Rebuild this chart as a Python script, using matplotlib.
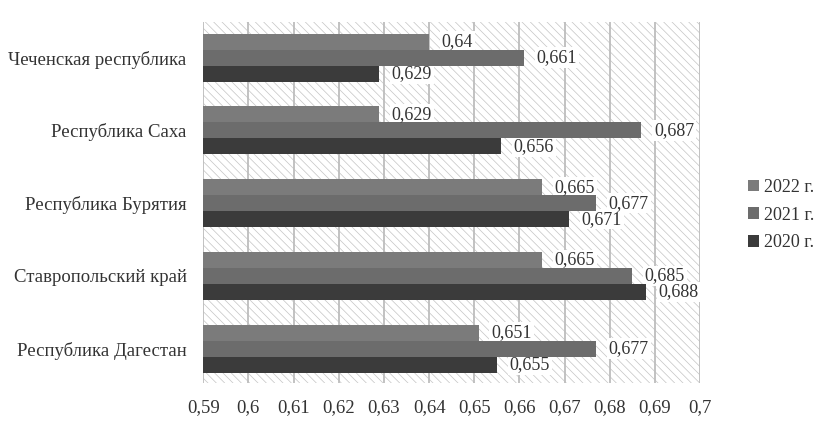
import matplotlib
matplotlib.use('Agg')
import matplotlib.pyplot as plt
from matplotlib.patches import Rectangle
import numpy as np

regions = ['Республика Дагестан', 'Ставропольский край', 'Республика Бурятия',
           'Республика Саха', 'Чеченская республика']
v2022 = [0.651, 0.665, 0.665, 0.629, 0.64]
v2021 = [0.677, 0.685, 0.677, 0.687, 0.661]
v2020 = [0.655, 0.688, 0.671, 0.656, 0.629]
x_ticks = [0.59, 0.6, 0.61, 0.62, 0.63, 0.64, 0.65, 0.66, 0.67, 0.68, 0.69, 0.7]

plt.rcParams['font.family'] = ['Liberation Serif', 'DejaVu Serif']
plt.rcParams['hatch.linewidth'] = 0.5
plt.rcParams['hatch.color'] = '#c4c4c4'

fig = plt.figure(figsize=(8.16, 4.24), dpi=100)
ax = fig.add_axes([0.249, 0.097, 0.609, 0.851])

# hatched background
bg = Rectangle((0, 0), 1, 1, transform=ax.transAxes, facecolor='white',
               edgecolor='#c4c4c4', hatch='\\\\\\\\', linewidth=0, zorder=0)
ax.add_patch(bg)

y = np.arange(len(regions))
h = 0.22
series = [(v2022, '#7b7b7b', '2022 г.', h), (v2021, '#6c6c6c', '2021 г.', 0),
          (v2020, '#3b3b3b', '2020 г.', -h)]
for vals, col, lab, off in series:
    bars = ax.barh(y + off, np.array(vals) - 0.59, left=0.59, height=h,
                   color=col, label=lab, zorder=3)
    for b, v in zip(bars, vals):
        txt = ('%g' % v).replace('.', ',')
        pos = (v, b.get_y() + b.get_height() / 2)
        # white box behind the bars, text on top
        ax.annotate(txt, pos, xytext=(9, 0), textcoords='offset points', va='center',
                    ha='left', fontsize=13, color='white', alpha=0, zorder=2,
                    bbox=dict(boxstyle='square,pad=0.1', fc='white', ec='none', alpha=1))
        ax.annotate(txt, pos, xytext=(9, 0), textcoords='offset points', va='center',
                    ha='left', fontsize=13, color='#333333', zorder=4)

ax.set_xlim(0.59, 0.7)
ax.set_ylim(-0.47, 4.49)
ax.set_xticks(x_ticks)
ax.set_xticklabels([('%g' % t).replace('.', ',') for t in x_ticks], fontsize=13.5,
                   color='#333333')
ax.set_yticks(y)
ax.set_yticklabels(regions, fontsize=13.5, color='#333333')
ax.tick_params(length=0, pad=12)
ax.tick_params(axis='y', pad=12)
ax.xaxis.grid(True, color='#bdbdbd', linewidth=1.3, zorder=1)
ax.set_axisbelow(True)
for s in ax.spines.values():
    s.set_visible(False)

ax.legend(loc='center left', bbox_to_anchor=(1.063, 0.465), frameon=False,
          fontsize=13, handlelength=0.6, handleheight=0.6, handletextpad=0.3,
          labelspacing=0.6, labelcolor='#333333')

fig.savefig('out.png', dpi=100)
